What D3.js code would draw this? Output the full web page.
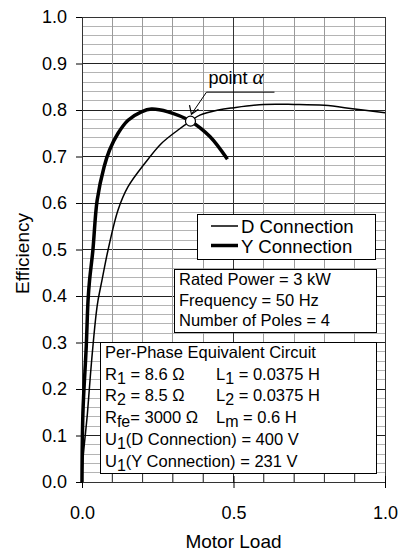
<!DOCTYPE html>
<html>
<head>
<meta charset="utf-8">
<script src="https://cdn.jsdelivr.net/npm/d3@7"></script>
<style>
  body { margin: 0; background: #fff; }
  text { font-family: "Liberation Sans", Arial, sans-serif; fill: #000; }
</style>
</head>
<body>
<svg id="chart"></svg>
<script>
// D connection (thin line)
const dLoad = [0, 0.003, 0.018, 0.031, 0.047, 0.053, 0.066, 0.086, 0.119, 0.152, 0.207, 0.262, 0.317, 0.358, 0.389, 0.45, 0.5, 0.6, 0.7, 0.8, 0.9, 1.0];
const dEff  = [0, 0.047, 0.148, 0.255, 0.363, 0.391, 0.434, 0.499, 0.585, 0.635, 0.685, 0.728, 0.757, 0.776, 0.789, 0.800, 0.805, 0.812, 0.812, 0.810, 0.802, 0.794];

// Y connection (thick line)
const yLoad = [0, 0.003, 0.014, 0.020, 0.025, 0.036, 0.050, 0.073, 0.091, 0.119, 0.152, 0.196, 0.229, 0.284, 0.358, 0.422, 0.480];
const yEff  = [0, 0.148, 0.291, 0.391, 0.434, 0.499, 0.606, 0.678, 0.714, 0.750, 0.778, 0.796, 0.802, 0.796, 0.776, 0.743, 0.694];

const alphaPoint = { load: 0.358, eff: 0.776 };

const xTicks = [0, 0.5, 1.0];
const yTicks = [0, 0.1, 0.2, 0.3, 0.4, 0.5, 0.6, 0.7, 0.8, 0.9, 1.0];
const seriesNames = ["D Connection", "Y Connection"];
const ratedLines = ["Rated Power = 3 kW", "Frequency = 50 Hz", "Number of Poles = 4"];
// circuit text: [text, isSubscript] pieces
const circuitLeft = [
  [["Per-Phase Equivalent Circuit", 0]],
  [["R", 0], ["1", 1], [" = 8.6 \u03A9", 0]],
  [["R", 0], ["2", 1], [" = 8.5 \u03A9", 0]],
  [["R", 0], ["fe", 1], ["= 3000 \u03A9", 0]],
  [["U", 0], ["1", 1], ["(D Connection) = 400 V", 0]],
  [["U", 0], ["1", 1], ["(Y Connection) = 231 V", 0]]
];
const circuitRight = [
  null,
  [["L", 0], ["1", 1], [" = 0.0375 H", 0]],
  [["L", 0], ["2", 1], [" = 0.0375 H", 0]],
  [["L", 0], ["m", 1], [" = 0.6 H", 0]],
  null, null
];

const W = 399, H = 554;
const mLeft = 82, mTop = 17, width = 303, height = 465;

const svg = d3.select('#chart').attr('width', W).attr('height', H);
const chart = svg.append('g').attr('transform', `translate(${mLeft}, ${mTop})`);

const x = d3.scaleLinear().domain([0, 1]).range([0, width]);
const y = d3.scaleLinear().domain([0, 1]).range([height, 0]);

// grid lines
chart.append('g').selectAll('line')
  .data(d3.range(0, 51).map(i => i / 50))
  .enter().append('line')
  .attr('x1', 0).attr('x2', width)
  .attr('y1', d => y(d)).attr('y2', d => y(d))
  .attr('stroke', (d, i) => i % 5 === 0 ? '#222' : '#b4b4b4')
  .attr('stroke-width', 1)
  .attr('shape-rendering', 'crispEdges');

chart.append('g').selectAll('line')
  .data(d3.range(1, 10).map(i => i / 10))
  .enter().append('line')
  .attr('y1', 0).attr('y2', height)
  .attr('x1', d => x(d)).attr('x2', d => x(d))
  .attr('stroke', (d, i) => i === 4 ? '#333' : '#9a9a9a')
  .attr('stroke-width', 1)
  .attr('shape-rendering', 'crispEdges');

// frame
chart.append('rect')
  .attr('width', width).attr('height', height)
  .attr('fill', 'none').attr('stroke', '#333')
  .attr('shape-rendering', 'crispEdges');

// y axis
const yAxis = chart.append('g')
  .call(d3.axisLeft(y).tickValues(yTicks).tickFormat(d3.format('.1f')).tickSize(6).tickPadding(9));
yAxis.select('.domain').remove();
yAxis.selectAll('text').style('font-size', '18px').attr('font-family', '"Liberation Sans", Arial, sans-serif');

// x axis: minor ticks inside, major crossing
chart.append('g').selectAll('line')
  .data(d3.range(1, 10).map(i => i / 10))
  .enter().append('line')
  .attr('x1', d => x(d)).attr('x2', d => x(d))
  .attr('y1', height - 8).attr('y2', height)
  .attr('stroke', '#333');
const xAxis = chart.append('g')
  .attr('transform', `translate(0, ${height})`)
  .call(d3.axisBottom(x).tickValues(xTicks).tickFormat(d3.format('.1f')).tickSizeInner(6).tickSizeOuter(0).tickPadding(18));
xAxis.select('.domain').attr('stroke', '#333');
xAxis.selectAll('.tick line').attr('y1', -6).attr('y2', 6);
xAxis.selectAll('text').style('font-size', '18px').attr('font-family', '"Liberation Sans", Arial, sans-serif');

// axis titles
svg.append('text')
  .attr('x', mLeft + width / 2).attr('y', 548)
  .attr('text-anchor', 'middle').style('font-size', '19px')
  .text('Motor Load');
svg.append('text')
  .attr('transform', `translate(29, ${mTop + height / 2 + 4}) rotate(-90)`)
  .attr('text-anchor', 'middle').style('font-size', '19px')
  .text('Efficiency');

// curves
const line = d3.line().x(d => x(d[0])).y(d => y(d[1])).curve(d3.curveCatmullRom.alpha(0.5));
chart.append('path')
  .datum(dLoad.map((v, i) => [v, dEff[i]]))
  .attr('d', line).attr('fill', 'none').attr('stroke', '#000').attr('stroke-width', 1.5);
chart.append('path')
  .datum(yLoad.map((v, i) => [v, yEff[i]]))
  .attr('d', line).attr('fill', 'none').attr('stroke', '#000').attr('stroke-width', 3.5);

// point alpha
const ax = x(alphaPoint.load), ay = y(alphaPoint.eff);
chart.append('circle')
  .attr('cx', ax).attr('cy', ay).attr('r', 5)
  .attr('fill', '#fff').attr('stroke', '#000').attr('stroke-width', 1.2);
const lx = ax + 16, ly = ay - 29;
chart.append('line')
  .attr('x1', lx).attr('y1', ly).attr('x2', lx + 68).attr('y2', ly)
  .attr('stroke', '#000');
chart.append('line')
  .attr('x1', lx).attr('y1', ly).attr('x2', ax + 1).attr('y2', ay - 7)
  .attr('stroke', '#000');
chart.append('path')
  .attr('d', `M${ax - 1},${ay - 16} L${ax + 1},${ay - 7} L${ax + 8},${ay - 12}`)
  .attr('fill', 'none').attr('stroke', '#000').attr('stroke-width', 1.2);
const alphaText = chart.append('text')
  .attr('x', lx + 2).attr('y', ly - 8).style('font-size', '18px');
alphaText.append('tspan').text('point ');
alphaText.append('tspan').style('font-style', 'italic').style('font-family', '"Times New Roman", "Liberation Serif", serif').style('font-size', '21px').text('\u03B1');

// legend
const legend = svg.append('g');
legend.append('rect')
  .attr('x', 197).attr('y', 214).attr('width', 178).attr('height', 45)
  .attr('fill', '#fff').attr('stroke', '#000').attr('shape-rendering', 'crispEdges');
seriesNames.forEach((name, i) => {
  const cy = 226 + i * 19.5;
  legend.append('line')
    .attr('x1', 211).attr('x2', 238).attr('y1', cy).attr('y2', cy)
    .attr('stroke', '#000').attr('stroke-width', i === 0 ? 1.5 : 3.5);
  legend.append('text')
    .attr('x', 241).attr('y', cy + 7).style('font-size', '18.6px').text(name);
});

// rated info box
const info = svg.append('g');
info.append('rect')
  .attr('x', 174).attr('y', 269).attr('width', 202).attr('height', 63)
  .attr('fill', '#fff').attr('stroke', '#000').attr('shape-rendering', 'crispEdges');
ratedLines.forEach((t, i) => {
  info.append('text')
    .attr('x', 179).attr('y', 285 + i * 20.6).style('font-size', '16.5px').text(t);
});

// circuit box
const circ = svg.append('g');
circ.append('rect')
  .attr('x', 100).attr('y', 342).attr('width', 276).attr('height', 131)
  .attr('fill', '#fff').attr('stroke', '#000').attr('shape-rendering', 'crispEdges');
function writeParts(g, xPos, yPos, parts) {
  const t = g.append('text').attr('x', xPos).attr('y', yPos).style('font-size', '16.5px');
  parts.forEach(([s, sub], k) => {
    const sp = t.append('tspan').text(s);
    if (sub) sp.attr('dy', 4).style('font-size', '16px');
    else if (k > 0) sp.attr('dy', -4);
  });
}
circuitLeft.forEach((parts, i) => {
  writeParts(circ, 105, 358 + i * 21.7, parts);
  if (circuitRight[i]) writeParts(circ, 216, 358 + i * 21.7, circuitRight[i]);
});
</script>
</body>
</html>
